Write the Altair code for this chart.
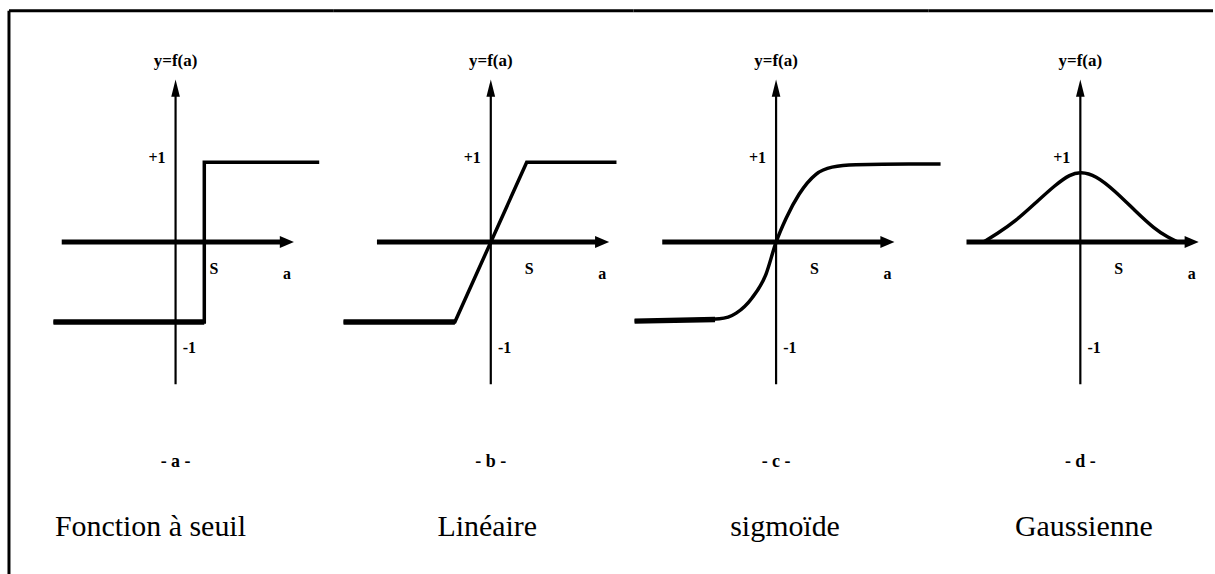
import altair as alt
import pandas as pd

# ---- function curves, as (a, f(a)) pairs ----
seuil_a = [-3.4, 0.8, 0.8, 4.0]
seuil_y = [-1.0, -1.0, 1.0, 1.0]

lin_a = [-4.1, -1.0, 1.0, 3.5]
lin_y = [-1.0, -1.0, 1.0, 1.0]

sig_a = [-3.94, -1.58, -1.11, -0.67, -0.28, 0.0, 0.28, 0.64, 1.11, 1.56, 2.22, 3.7, 4.58]
sig_y = [-0.99, -0.96, -0.89, -0.70, -0.40, 0.0, 0.30, 0.60, 0.85, 0.94, 0.97, 0.98, 0.98]

gauss_a = [-2.7, -2.33, -1.81, -1.25, -0.69, -0.28, 0.0, 0.42, 0.97, 1.53, 2.08, 2.44, 2.72]
gauss_y = [0.0, 0.10, 0.26, 0.49, 0.72, 0.85, 0.88, 0.84, 0.64, 0.39, 0.16, 0.06, 0.0]

# lower saturation segments, drawn heavier
low_a = [[-3.4, 0.8], [-4.1, -1.0], [-3.94, -1.7], []]
low_y = [[-1.0, -1.0], [-1.0, -1.0], [-0.99, -0.97], []]

curves_a = [seuil_a, lin_a, sig_a, gauss_a]
curves_y = [seuil_y, lin_y, sig_y, gauss_y]
interps = ["linear", "linear", "monotone", "basis"]

letters = ["a", "b", "c", "d"]
names = ["Fonction à seuil", "Linéaire", "sigmoïde", "Gaussienne"]

# axis extents (function units)
axis_x = [-3.17, 3.05]
axis_y = [-1.78, 1.85]
arrow_x_tip = 3.1
arrow_y_tip = 1.93

# ---- layout ----
PX_X = 36.0   # pixels per unit of a
PX_Y = 80.0   # pixels per unit of f(a)
H = 565       # panel height
Y0 = 232      # distance from panel top to f(a) = 0
PANEL_W = [325, 301, 296, 285]
AXIS_OFF = [167, 158, 143, 152]
CAPTION_X = [-0.7, -0.1, 0.25, 0.1]

FONT = "Liberation Serif"
INK = "#000000"


def panel(i):
    w, off = PANEL_W[i], AXIS_OFF[i]
    xs = alt.Scale(domain=[-off / PX_X, (w - off) / PX_X], nice=False, zero=False)
    ys = alt.Scale(domain=[-(H - Y0) / PX_Y, Y0 / PX_Y], nice=False, zero=False)

    def X(f):
        return alt.X(f, type="quantitative", scale=xs, axis=None)

    def Y(f):
        return alt.Y(f, type="quantitative", scale=ys, axis=None)

    # horizontal axis (thick) with arrow
    h_axis = alt.Chart(pd.DataFrame({"x0": [axis_x[0]], "x1": [axis_x[1]], "y": [0.0]})).mark_rule(
        color=INK, strokeWidth=5
    ).encode(x=X("x0"), x2="x1", y=Y("y"))
    h_arrow = alt.Chart(pd.DataFrame({"x": [arrow_x_tip], "y": [0.0]})).mark_point(
        shape="M1,0 L-1,-0.85 L-1,0.85 Z", filled=True, color=INK, opacity=1, size=200
    ).encode(x=X("x"), y=Y("y"))

    # vertical axis (thin) with arrow
    v_axis = alt.Chart(pd.DataFrame({"x": [0.0], "y0": [axis_y[0]], "y1": [axis_y[1]]})).mark_rule(
        color=INK, strokeWidth=2.2
    ).encode(x=X("x"), y=Y("y0"), y2="y1")
    v_arrow = alt.Chart(pd.DataFrame({"x": [0.0], "y": [arrow_y_tip]})).mark_point(
        shape="M0,-1 L0.5,1 L-0.5,1 Z", filled=True, color=INK, opacity=1, size=300
    ).encode(x=X("x"), y=Y("y"))

    # the activation curve
    cdf = pd.DataFrame({"a": curves_a[i], "f": curves_y[i], "k": list(range(len(curves_a[i])))})
    curve = alt.Chart(cdf).mark_line(
        color=INK, strokeWidth=3.5, interpolate=interps[i], strokeJoin="miter"
    ).encode(x=X("a"), y=Y("f"), order="k:Q")
    layers = [h_axis, v_axis, curve]

    if low_a[i]:
        ldf = pd.DataFrame({"a": low_a[i], "f": low_y[i]})
        layers.append(
            alt.Chart(ldf).mark_line(color=INK, strokeWidth=5.5).encode(x=X("a"), y=Y("f"))
        )

    layers += [h_arrow, v_arrow]

    # axis annotations
    def label(text, x, y, align, size, weight="bold"):
        return alt.Chart(pd.DataFrame({"x": [x], "y": [y], "t": [text]})).mark_text(
            font=FONT, fontSize=size, fontWeight=weight, color=INK, align=align, baseline="middle"
        ).encode(x=X("x"), y=Y("y"), text="t:N")

    layers += [
        label("y=f(a)", 0.0, 2.27, "center", 17),
        label("+1", -0.28, 1.05, "right", 16),
        label("-1", 0.2, -1.33, "left", 16),
        label("S", 1.07, -0.34, "center", 16),
        label("a", 3.1, -0.4, "center", 16),
        label("- " + letters[i] + " -", 0.0, -2.76, "center", 18),
        label(names[i], CAPTION_X[i], -3.57, "center", 30, "normal"),
    ]

    # frame line along the top, and on the far left
    layers.append(
        alt.Chart(pd.DataFrame({"z": [0]})).mark_rule(color=INK, strokeWidth=3).encode(
            x=alt.value(0), x2=alt.value(w), y=alt.value(0)
        )
    )
    if i == 0:
        layers.append(
            alt.Chart(pd.DataFrame({"z": [0]})).mark_rule(color=INK, strokeWidth=3).encode(
                x=alt.value(0), y=alt.value(0), y2=alt.value(H)
            )
        )

    return alt.layer(*layers).properties(width=w, height=H)


chart = (
    alt.hconcat(*[panel(i) for i in range(4)], spacing=0, bounds="flush")
    .properties(padding={"left": 7, "top": 8, "right": 0, "bottom": 0}, background="white")
    .configure_view(stroke=None)
)

chart.save("out.html", embed_options={"renderer": "svg", "actions": False})
